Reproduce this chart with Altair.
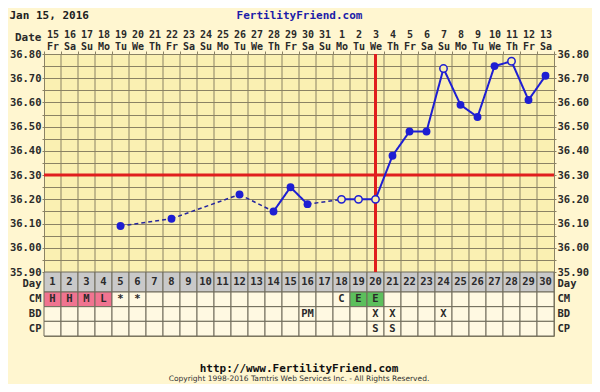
import altair as alt
import pandas as pd

# ---------------- data ----------------
days = list(range(1, 31))
date_nums = [15, 16, 17, 18, 19, 20, 21, 22, 23, 24, 25, 26, 27, 28, 29, 30, 31,
             1, 2, 3, 4, 5, 6, 7, 8, 9, 10, 11, 12, 13]
weekdays = ["Fr", "Sa", "Su", "Mo", "Tu", "We", "Th"] * 4 + ["Fr", "Sa"]

temp_days = [5, 8, 12, 14, 15, 16, 18, 19, 20, 21, 22, 23, 24, 25, 26, 27, 28, 29, 30]
temps = [36.09, 36.12, 36.22, 36.15, 36.25, 36.18, 36.20, 36.20, 36.20, 36.38,
         36.48, 36.48, 36.74, 36.59, 36.54, 36.75, 36.77, 36.61, 36.71]
open_days = [18, 19, 20, 24, 28]

coverline = [36.30]
ovulation_day = [20]
temp_domain = [35.90, 36.80]
temp_ticks = [round(35.90 + 0.05 * i, 2) for i in range(19)]

day_row = ["Day"]
sign_rows = ["CM", "BD", "CP"]
day_labels = [str(d) for d in days]
cm_marks = ["H", "H", "M", "L", "*", "*"] + [""] * 11 + ["C", "E", "E"] + [""] * 10
bd_marks = [""] * 15 + ["PM"] + [""] * 3 + ["X", "X"] + [""] * 2 + ["X"] + [""] * 6
cp_marks = [""] * 19 + ["S", "S"] + [""] * 9

# ---------------- styles ----------------
FONT = "DejaVu Sans Mono"
BG = "#FFF6D0"
PLOT_BG = "#FAF0B2"
CELL_BG = "#FFF9E2"
GRID = "#8A8264"
BLUE = "#1E1ED2"
DASH_BLUE = "#25259E"
RED = "#E01E1E"
TXT = "#2A2A2A"

# ---------------- frames ----------------
pts = pd.DataFrame({"day": temp_days, "temp": temps})
pts["open"] = pts["day"].isin(open_days)

seg_rows = []
for i in range(len(temp_days) - 1):
    style = "solid" if temp_days[i + 1] - temp_days[i] == 1 else "dash"
    seg_rows.append({"seg": i, "day": temp_days[i], "temp": temps[i], "style": style})
    seg_rows.append({"seg": i, "day": temp_days[i + 1], "temp": temps[i + 1], "style": style})
segs = pd.DataFrame(seg_rows)

day_cells = pd.DataFrame({"row": "Day", "day": days, "txt": day_labels, "kind": "day"})
sign_list = []
for r, marks in zip(sign_rows, [cm_marks, bd_marks, cp_marks]):
    for d, t in zip(days, marks):
        if r == "CM" and t in ("H", "M", "L"):
            kind = "pink"
        elif r == "CM" and t == "E":
            kind = "green"
        else:
            kind = "blank"
        sign_list.append({"row": r, "day": d, "txt": t, "kind": kind})
sign_cells = pd.DataFrame(sign_list)

hline = pd.DataFrame({"temp": coverline})
vline = pd.DataFrame({"day": ovulation_day, "lo": [temp_domain[0]], "hi": [temp_domain[1]]})
vgrid = pd.DataFrame({"day": days[1:], "lo": temp_domain[0], "hi": temp_domain[1]})

# ---------------- scales / axes ----------------
H_TEMP = 218
H_DAY = 20
H_SIGN = 44
W = 510

x_scale = alt.Scale(type="band", domain=days, paddingInner=0, paddingOuter=0)
date_js = "[" + ",".join("'%s'" % d for d in date_nums) + "]"
wd_js = "[" + ",".join("'%s'" % w for w in weekdays) + "]"
x_axis = alt.Axis(
    orient="top", tickBand="extent", grid=False, domain=False, ticks=True,
    tickSize=3, tickColor=GRID,
    labelExpr="[%s[datum.value-1], %s[datum.value-1]]" % (date_js, wd_js),
    labelAngle=0, labelFont=FONT, labelFontSize=10, labelFontWeight="bold",
    labelColor=TXT, labelPadding=12, labelLineHeight=12, labelBaseline="bottom",
    labelOverlap=False,
    title="FertilityFriend.com", titleY=-39, titleBaseline="middle",
    titleColor="#1C1CA8", titleFont=FONT, titleFontSize=11, titleFontWeight="bold",
)
x_enc = alt.X("day:O", scale=x_scale, axis=x_axis)
x_edge = alt.X("day:O", scale=x_scale, axis=x_axis, bandPosition=0)

temp_scale = alt.Scale(domain=temp_domain, range=[H_TEMP, 0], zero=False, nice=False)
temp_label_expr = "(round(datum.value*100) % 10 == 0) ? format(datum.value, '.2f') : ''"
temp_axis_common = dict(
    values=temp_ticks, labelExpr=temp_label_expr, domain=False, tickSize=2,
    tickColor=GRID, labelFont=FONT, labelFontSize=10.5, labelFontWeight="bold",
    labelColor=TXT, labelOverlap=False, labelBaseline="middle", labelPadding=1,
)
temp_axis_left = alt.Axis(
    orient="left", grid=True, gridColor=GRID, gridOpacity=1, gridWidth=1,
    title="Date", titleX=-3, titleY=-17, titleAngle=0,
    titleAlign="right", titleBaseline="middle", titleFont=FONT,
    titleFontSize=11, titleFontWeight="bold", titleColor=TXT,
    **temp_axis_common,
)
temp_axis_right = alt.Axis(orient="right", grid=False, title=None, **temp_axis_common)

day_scale = alt.Scale(type="band", domain=day_row, range=[H_TEMP, H_TEMP + H_DAY],
                      paddingInner=0, paddingOuter=0)
sign_scale = alt.Scale(type="band", domain=sign_rows,
                       range=[H_TEMP + H_DAY, H_TEMP + H_DAY + H_SIGN],
                       paddingInner=0, paddingOuter=0)
tab_axis_common = dict(domain=False, ticks=False, grid=False, labelFont=FONT,
                       labelFontSize=10.5, labelFontWeight="bold", labelColor=TXT,
                       labelPadding=3)
day_axis_left = alt.Axis(
    orient="left", title="Jan 15, 2016", titleX=-35, titleY=-39,
    titleAngle=0, titleAlign="left", titleBaseline="middle", titleFont=FONT,
    titleFontSize=11, titleFontWeight="bold", titleColor="#202020",
    labelBaseline="middle", labelOffset=2,
    **tab_axis_common,
)
day_axis_right = alt.Axis(orient="right", title=None, labelOffset=2, **tab_axis_common)
sign_axis_left = alt.Axis(orient="left", title=None, **tab_axis_common)
sign_axis_right = alt.Axis(orient="right", title=None, **tab_axis_common)

fill_scale = alt.Scale(domain=["day", "pink", "green", "blank"],
                       range=["#C9C9C9", "#F07490", "#5CBF5C", CELL_BG])

# ---------------- layers ----------------
def cell_layers(df, scale, ax_left, ax_right):
    rect = alt.Chart(df).mark_rect(stroke="#6E6A5A", strokeWidth=1).encode(
        x=x_enc,
        y=alt.Y("row:N", scale=scale, axis=ax_left),
        fill=alt.Fill("kind:N", scale=fill_scale, legend=None),
    )
    text = alt.Chart(df).mark_text(font=FONT, fontSize=10.5, fontWeight="bold",
                                   color=TXT).encode(
        x=x_enc,
        y=alt.Y("row:N", scale=scale, axis=ax_right),
        text="txt:N",
    )
    return rect, text

day_rect, day_text = cell_layers(day_cells, day_scale, day_axis_left, day_axis_right)
sign_rect, sign_text = cell_layers(sign_cells, sign_scale, sign_axis_left, sign_axis_right)

vgrid_layer = alt.Chart(vgrid).mark_rule(color=GRID, strokeWidth=1).encode(
    x=x_edge,
    y=alt.Y("lo:Q", scale=temp_scale, axis=None),
    y2="hi:Q",
)
h_layer = alt.Chart(hline).mark_rule(color=RED, strokeWidth=3).encode(
    y=alt.Y("temp:Q", scale=temp_scale, axis=temp_axis_left),
)
v_layer = alt.Chart(vline).mark_rule(color=RED, strokeWidth=3).encode(
    x=x_enc,
    y=alt.Y("lo:Q", scale=temp_scale, axis=temp_axis_right),
    y2="hi:Q",
)
line_layer = alt.Chart(segs).mark_line().encode(
    x=x_enc,
    y=alt.Y("temp:Q", scale=temp_scale, axis=None),
    detail="seg:N",
    color=alt.Color("style:N", scale=alt.Scale(domain=["solid", "dash"],
                                               range=[BLUE, DASH_BLUE]), legend=None),
    strokeDash=alt.StrokeDash("style:N", scale=alt.Scale(domain=["solid", "dash"],
                                                         range=[[1, 0], [4, 3]]), legend=None),
    size=alt.Size("style:N", scale=alt.Scale(domain=["solid", "dash"], range=[2, 1.5]),
                  legend=None),
)
filled_layer = alt.Chart(pts).transform_filter("!datum.open").mark_circle(
    color=BLUE, size=62, opacity=1).encode(
    x=x_enc,
    y=alt.Y("temp:Q", scale=temp_scale, axis=None),
)
open_layer = alt.Chart(pts).transform_filter("datum.open").mark_circle(
    fill=PLOT_BG, stroke=BLUE, strokeWidth=1.5, size=55, opacity=1).encode(
    x=x_enc,
    y=alt.Y("temp:Q", scale=temp_scale, axis=None),
)

chart = alt.layer(
    day_rect, day_text, sign_rect, sign_text, vgrid_layer, h_layer, v_layer,
    line_layer, filled_layer, open_layer
).resolve_scale(y="independent", color="independent").properties(
    width=W, height=H_TEMP + H_DAY + H_SIGN,
    padding={"left": 36, "top": 46, "right": 38, "bottom": 48},
    autosize=alt.AutoSizeParams(type="none"),
    background=BG,
    title=alt.TitleParams(
        text="http://www.FertilityFriend.com",
        subtitle="Copyright 1998-2016 Tamtris Web Services Inc. - All Rights Reserved.",
        orient="bottom", anchor="middle", frame="group", offset=26,
        font=FONT, fontSize=11, fontWeight="bold", color="#111111",
        subtitleFont="DejaVu Sans", subtitleFontSize=7.5, subtitleColor="#333333",
        subtitlePadding=1,
    ),
).configure_view(fill=PLOT_BG, stroke=GRID, strokeWidth=1)

chart.save("out.html", embed_options={"renderer": "svg", "actions": False})
